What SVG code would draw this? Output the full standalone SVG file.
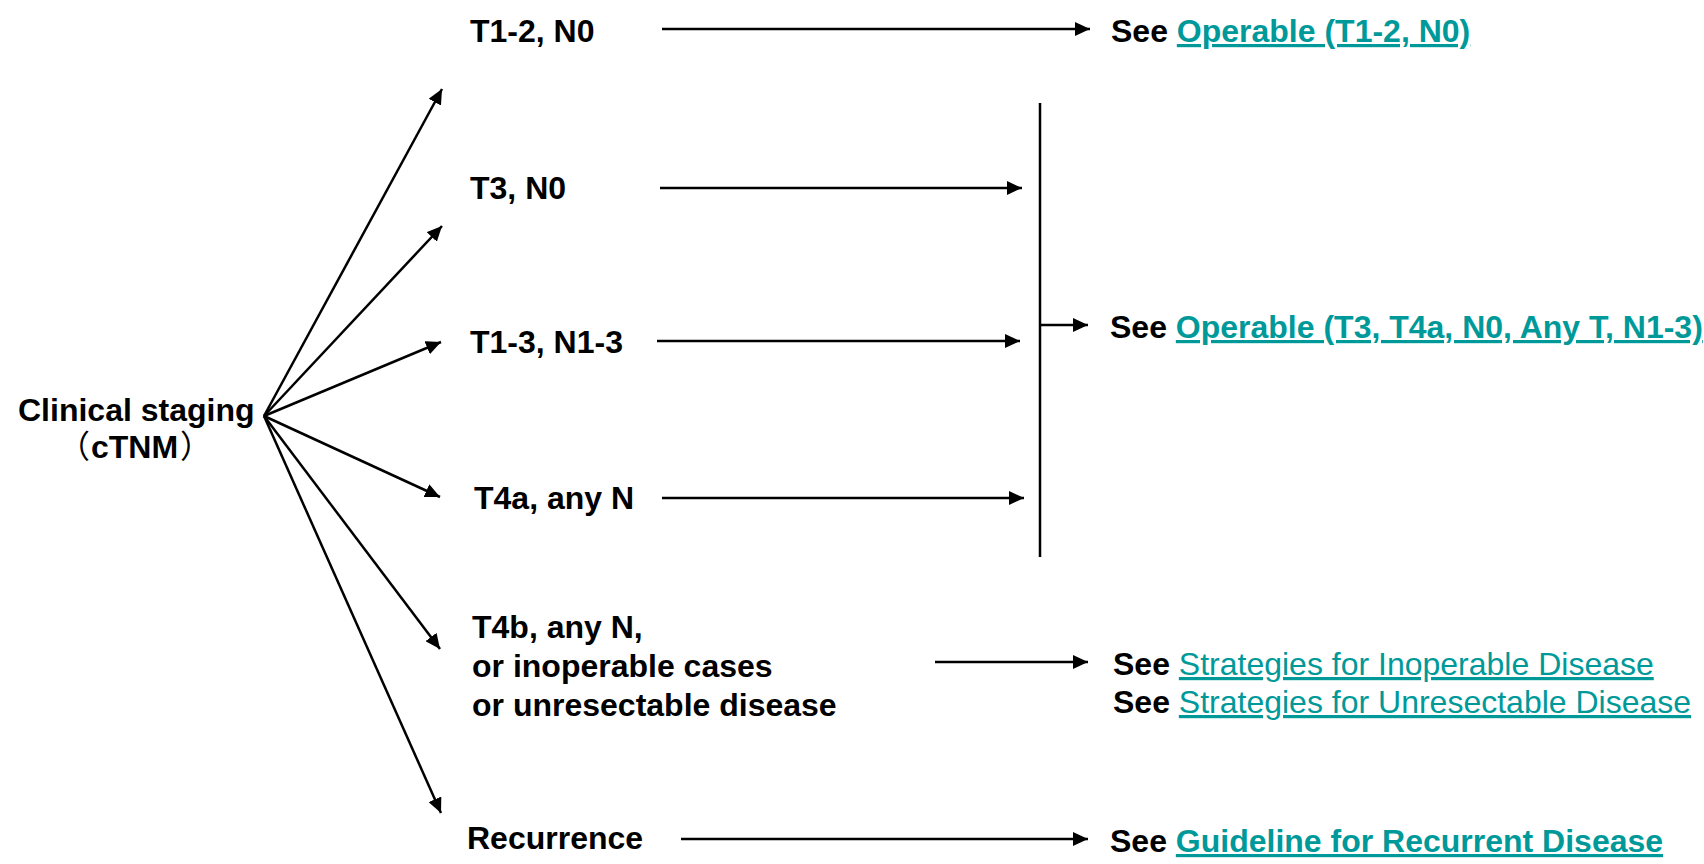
<svg xmlns="http://www.w3.org/2000/svg" width="1704" height="864" viewBox="0 0 1704 864">
  <defs>
    <marker id="arrow" markerUnits="userSpaceOnUse" markerWidth="16" markerHeight="14" refX="15" refY="7" orient="auto">
      <path d="M0,0 L15,7 L0,14 z" fill="#000"/>
    </marker>
    <style>
      .lbl { font-family: "Liberation Sans", Arial, "Noto Sans CJK SC", sans-serif; font-size: 32px; font-weight: bold; fill: #000; }
      .cjk { font-family: "Noto Sans CJK SC", "Noto Sans CJK JP", sans-serif; font-weight: normal; text-spacing-trim: space-all; }
      .link { fill: #009999; text-decoration: underline; }
      .reg { font-weight: normal; }
      .conn line { stroke: #000; stroke-width: 2.5; fill: none; }
      .conn .arr { marker-end: url(#arrow); }
    </style>
  </defs>
  <rect width="1704" height="864" fill="#fff"/>

  <!-- connectors -->
  <g id="connectors" class="conn">
    <!-- fan from clinical staging -->
    <line class="arr" x1="264" y1="416" x2="442" y2="89"/>
    <line class="arr" x1="264" y1="416" x2="442" y2="226"/>
    <line class="arr" x1="264" y1="416" x2="441" y2="342"/>
    <line class="arr" x1="264" y1="416" x2="440" y2="497"/>
    <line class="arr" x1="264" y1="416" x2="440" y2="649"/>
    <line class="arr" x1="264" y1="416" x2="441" y2="813"/>
    <!-- stage to guideline -->
    <line class="arr" x1="662" y1="29" x2="1090" y2="29"/>
    <line class="arr" x1="660" y1="188" x2="1022" y2="188"/>
    <line class="arr" x1="657" y1="341" x2="1020" y2="341"/>
    <line class="arr" x1="662" y1="498" x2="1024" y2="498"/>
    <line x1="1040" y1="103" x2="1040" y2="557"/>
    <line class="arr" x1="1040" y1="325" x2="1088" y2="325"/>
    <line class="arr" x1="935" y1="662" x2="1088" y2="662"/>
    <line class="arr" x1="681" y1="839" x2="1088" y2="839"/>
  </g>

  <g id="clinical-staging">
    <text class="lbl" x="18" y="421">Clinical staging</text>
    <text class="lbl" y="458"><tspan class="cjk" x="58">（</tspan><tspan x="91">cTNM</tspan><tspan class="cjk" x="180">）</tspan></text>
  </g>

  <g id="t12-n0">
    <text class="lbl" x="470" y="42">T1-2, N0</text>
  </g>
  <g id="t3-n0">
    <text class="lbl" x="470" y="199">T3, N0</text>
  </g>
  <g id="t13-n13">
    <text class="lbl" x="470" y="353">T1-3, N1-3</text>
  </g>
  <g id="t4a">
    <text class="lbl" x="474" y="509">T4a, any N</text>
  </g>
  <g id="t4b">
    <text class="lbl" x="472" y="638">T4b, any N,</text>
    <text class="lbl" x="472" y="677">or inoperable cases</text>
    <text class="lbl" x="472" y="716">or unresectable disease</text>
  </g>
  <g id="recurrence">
    <text class="lbl" x="467" y="849">Recurrence</text>
  </g>

  <g id="see-operable-early">
    <text class="lbl" x="1111" y="42">See <tspan class="link">Operable (T1-2, N0)</tspan></text>
  </g>
  <g id="see-operable-advanced">
    <text class="lbl" x="1110" y="338">See <tspan class="link">Operable (T3, T4a, N0, Any T, N1-3)</tspan></text>
  </g>
  <g id="see-strategies">
    <text class="lbl" x="1113" y="675">See <tspan class="link reg">Strategies for Inoperable Disease</tspan></text>
    <text class="lbl" x="1113" y="713">See <tspan class="link reg">Strategies for Unresectable Disease</tspan></text>
  </g>
  <g id="see-recurrent">
    <text class="lbl" x="1110" y="852">See <tspan class="link">Guideline for Recurrent Disease</tspan></text>
  </g>
</svg>
